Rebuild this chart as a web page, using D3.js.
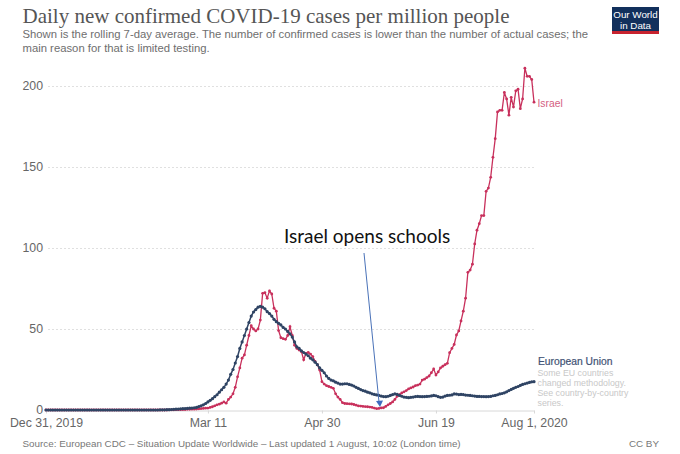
<!DOCTYPE html>
<html>
<head>
<meta charset="utf-8">
<script src="https://cdn.jsdelivr.net/npm/d3@7"></script>
<style>
  html, body { margin: 0; padding: 0; background: #fff; }
  svg { display: block; }
  text { font-family: "Liberation Sans", sans-serif; }
  .tick text { fill: #666; font-size: 12.3px; }
</style>
</head>
<body>
<div id="chart"></div>
<script>
// daily values, first entry is Dec 31 2019, last is Aug 1 2020
var startDay = new Date(Date.UTC(2019, 11, 31));

var israel = [
  0,0,0,0,0,0,0,0,0,0,
  0,0,0,0,0,0,0,0,0,0,
  0,0,0,0,0,0,0,0,0,0,
  0,0,0,0,0,0,0,0,0,0,
  0,0,0,0,0,0,0,0,0,0,
  0,0,0,0,0.1,0.1,0.1,0.2,0.2,0.2,
  0.3,0.3,0.4,0.4,0.5,0.5,0.6,0.7,0.9,1,
  1.1,1.2,1.6,2,2.6,3.2,3.6,4.2,5,4.2,
  6.5,8,10,14,20.5,26,32,34,40,46,
  52,50,48.8,50,55.5,72,72.4,69,73.5,71.6,
  62.8,61,49,44.6,44,43.6,46,51.4,46,40,
  38,37,36,31,35,35.5,34.5,33,30,28,
  24.7,17.5,16,15,14.5,14,13.4,10,8,6.5,
  4.5,4,3.9,3.8,3.7,3.4,3,2.5,2.4,2.2,
  2.1,2,1.8,1.6,1.2,0.8,1,1.3,1.4,2.2,
  3.2,4,5,6.5,8.5,9.5,10.5,11.2,12,13,
  13.6,14.2,15,15.4,16,18.5,19,20,21,23,
  25.3,21.6,23.5,26,27,28,28.8,35.4,38,40.5,
  46.3,48.8,55,61,69,85,86.4,90,102.5,111,
  115,120,120,135,137,143.6,156,167.5,184,185,
  185,196,192,182,193,187,197,198,186,192,
  211,206,206,204,190
];

var europeanUnion = [
  0,0,0,0,0,0,0,0,0,0,
  0,0,0,0,0,0,0,0,0,0,
  0,0,0,0,0,0,0,0,0,0,
  0,0,0,0,0,0,0,0,0,0,
  0,0,0,0,0,0,0,0,0,0,
  0.1,0.1,0.1,0.2,0.2,0.3,0.4,0.5,0.6,0.7,
  0.8,0.9,1,1.1,1.2,1.4,1.6,2.1,2.6,3.2,
  4,5,6,7,8.2,9.4,11,12.5,14,16,
  18.5,22,25,29,33,38,42,46,50,54,
  58,60.5,62,63.5,64,63.5,62.5,60.7,59.5,58,
  56,54.5,53.5,52.5,51,50,48.5,47,45,42,
  39,38,36.5,35.5,34.5,33.5,32,31,29.5,28,
  26,24.5,23,21,19.5,18.5,18,17.2,16.6,16,
  16,16.2,16.2,15.8,15.4,14.8,14,13.3,12.6,12,
  11.6,11,10.6,10,9.6,9.3,9,8.6,8.3,8.2,
  8.5,9,9.5,9.9,9.6,9,8.5,8,7.8,7.6,
  7.8,8,8.3,8.4,8.3,8.2,8.3,8.4,8.5,8.7,
  9,8.8,8.2,7.8,8,8.6,9,9.1,9.3,9.9,
  9.8,9.5,9.6,9.5,9.2,9.1,9,8.8,8.6,8.4,
  8.4,8.3,8.3,8.2,8.3,8.4,8.8,9,9.4,9.9,
  10.2,10.6,11.2,12,12.7,13.4,14,14.5,15.2,15.8,
  16.2,16.6,17,17.4,17.5
];

var yTicks = [0, 50, 100, 150, 200];
var xTickDays = [0, 71, 121, 171, 214];
var xTickLabels = ["Dec 31, 2019", "Mar 11", "Apr 30", "Jun 19", "Aug 1, 2020"];
var euNote = ["Some EU countries", "changed methodology.", "See country-by-country", "series."];
var subtitleLines = [
  "Shown is the rolling 7-day average. The number of confirmed cases is lower than the number of actual cases; the",
  "main reason for that is limited testing."
];

var colorIsrael = "#c8305c";
var colorEU = "#2f4464";

var svg = d3.select("#chart").append("svg")
  .attr("width", 680)
  .attr("height", 454);

function dayToDate(d) {
  return new Date(startDay.getTime() + d * 86400000);
}

var x = d3.scaleUtc().domain([dayToDate(0), dayToDate(214)]).range([46, 534]);
var y = d3.scaleLinear().domain([0, 200]).range([410, 86]);

// title block
svg.append("text")
  .attr("x", 22.5).attr("y", 23)
  .style("font-family", "'Liberation Serif', serif")
  .style("font-size", "21px")
  .attr("fill", "#555")
  .text("Daily new confirmed COVID-19 cases per million people");

svg.selectAll(".sub").data(subtitleLines).enter().append("text")
  .attr("class", "sub")
  .attr("x", 22.5)
  .attr("y", function(d, i) { return 38.3 + i * 13.4; })
  .style("font-size", "11.3px")
  .attr("fill", "#6e6e6e")
  .text(function(d) { return d; });

// logo
svg.append("rect").attr("x", 612).attr("y", 7).attr("width", 47).attr("height", 27).attr("fill", "#12305c");
svg.append("rect").attr("x", 612).attr("y", 31).attr("width", 47).attr("height", 3).attr("fill", "#c8232f");
svg.selectAll(".logo").data(["Our World", "in Data"]).enter().append("text")
  .attr("class", "logo")
  .attr("x", 635.5)
  .attr("y", function(d, i) { return 18 + i * 11; })
  .attr("text-anchor", "middle")
  .style("font-size", "9.8px")
  .attr("fill", "#fff")
  .text(function(d) { return d; });

// y axis, grid lines come from the ticks
var yAxis = svg.append("g")
  .attr("transform", "translate(46,0)")
  .call(d3.axisLeft(y).tickValues(yTicks).tickSize(0).tickPadding(3));
yAxis.select(".domain").remove();
yAxis.selectAll(".tick line")
  .attr("x1", 2)
  .attr("x2", 488)
  .attr("stroke", "#e0e0e0")
  .attr("stroke-dasharray", "2,2")
  .style("display", function(d) { return d === 0 ? "none" : null; });

// x axis
var xAxis = svg.append("g")
  .attr("transform", "translate(0,410.5)")
  .call(d3.axisBottom(x)
    .tickValues(xTickDays.map(dayToDate))
    .tickFormat(function(d, i) { return xTickLabels[i]; })
    .tickSize(3).tickPadding(5).tickSizeOuter(0));
xAxis.select(".domain").attr("stroke", "#d8d8d8");
xAxis.selectAll(".tick line").attr("stroke", "#d8d8d8");

// series
var line = d3.line()
  .x(function(d, i) { return x(dayToDate(i)); })
  .y(function(d) { return y(d); });

function drawSeries(values, color, width, r) {
  var g = svg.append("g");
  g.append("path")
    .attr("d", line(values))
    .attr("fill", "none")
    .attr("stroke", color)
    .attr("stroke-width", width);
  g.selectAll("circle").data(values).enter().append("circle")
    .attr("cx", function(d, i) { return x(dayToDate(i)); })
    .attr("cy", function(d) { return y(d); })
    .attr("r", r)
    .attr("fill", color);
}

drawSeries(israel, colorIsrael, 1.3, 1.4);
drawSeries(europeanUnion, colorEU, 1.5, 1.6);

// series labels
svg.append("text")
  .attr("x", 537.5).attr("y", 106.5)
  .style("font-size", "10.3px")
  .attr("fill", "#d4607f")
  .text("Israel");

svg.append("text")
  .attr("x", 538).attr("y", 365)
  .style("font-size", "10.3px")
  .attr("fill", "#3f5274")
  .attr("stroke", "#3f5274")
  .attr("stroke-width", 0.2)
  .text("European Union");

svg.selectAll(".note").data(euNote).enter().append("text")
  .attr("class", "note")
  .attr("x", 537.5)
  .attr("y", function(d, i) { return 375.5 + i * 10.3; })
  .style("font-size", "8.8px")
  .attr("fill", "#c8c8c8")
  .text(function(d) { return d; });

// annotation
svg.append("text")
  .attr("x", 284).attr("y", 242.7)
  .style("font-family", "Lato, sans-serif")
  .style("font-size", "19px")
  .attr("fill", "#111")
  .text("Israel opens schools");

svg.append("line")
  .attr("x1", 364).attr("y1", 253)
  .attr("x2", 379).attr("y2", 402)
  .attr("stroke", "#4a72b8")
  .attr("stroke-width", 1);
svg.append("path")
  .attr("d", d3.line()([[376, 401], [383, 400.5], [380, 407]]))
  .attr("fill", "#3f6cc0");

// footer
svg.append("text")
  .attr("x", 22.5).attr("y", 446.5)
  .style("font-size", "9.85px")
  .attr("fill", "#777")
  .text("Source: European CDC – Situation Update Worldwide – Last updated 1 August, 10:02 (London time)");
svg.append("text")
  .attr("x", 659).attr("y", 446.5)
  .attr("text-anchor", "end")
  .style("font-size", "9.85px")
  .attr("fill", "#777")
  .text("CC BY");
</script>
</body>
</html>
